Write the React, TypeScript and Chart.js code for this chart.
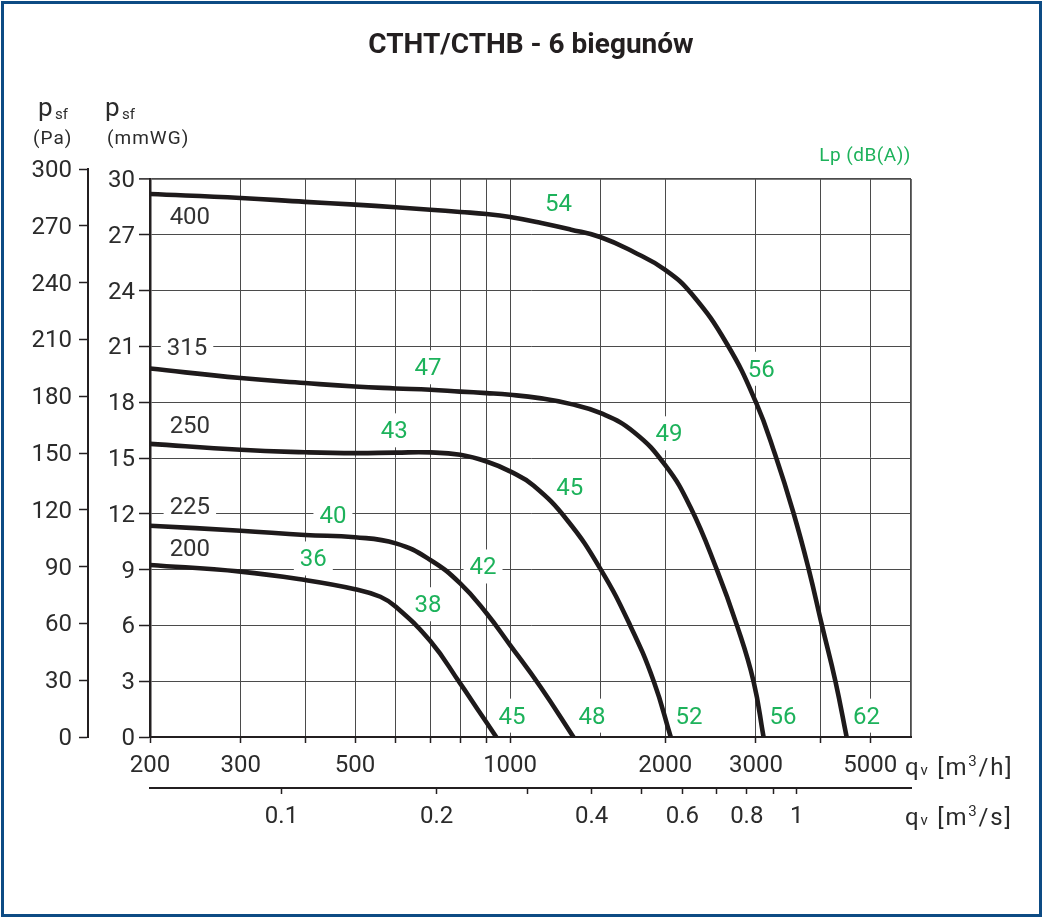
import React, { useEffect, useRef } from 'react';
import { Chart, registerables } from 'chart.js';

Chart.register(...registerables);

// ---------- data (qv in m³/h, psf in mmWG) ----------
const SIZES = ['400', '315', '250', '225', '200'];

const Q_400 = [200, 300, 400, 500, 600, 700, 800, 900, 1000, 1150, 1308, 1500, 1734, 2000, 2250, 2636, 3000, 3270, 3550, 3800, 4030, 4280, 4500];
const P_400 = [29.19, 28.98, 28.77, 28.62, 28.48, 28.35, 28.23, 28.12, 27.96, 27.64, 27.29, 26.87, 26.09, 25.12, 23.83, 21.13, 18.0, 15.17, 12.03, 9.0, 6.0, 3.0, 0];

const Q_315 = [200, 300, 400, 500, 600, 700, 800, 900, 1000, 1140, 1308, 1500, 1738, 2002, 2237, 2519, 2756, 2968, 3104];
const P_315 = [19.81, 19.3, 19.03, 18.84, 18.74, 18.67, 18.57, 18.49, 18.4, 18.22, 17.91, 17.41, 16.4, 14.6, 12.38, 9.0, 6.0, 3.0, 0];

const Q_250 = [200, 300, 400, 500, 600, 700, 800, 900, 1000, 1110, 1290, 1500, 1710, 1900, 2050];
const P_250 = [15.76, 15.44, 15.31, 15.26, 15.29, 15.3, 15.17, 14.81, 14.28, 13.52, 11.67, 9.0, 6.0, 3.0, 0];

const Q_225 = [200, 300, 400, 500, 600, 700, 800, 900, 1000, 1145, 1327];
const P_225 = [11.36, 11.09, 10.86, 10.74, 10.41, 9.52, 8.26, 6.65, 4.94, 2.7, 0];

const Q_200 = [200, 300, 400, 500, 560, 600, 700, 800, 862, 940];
const P_200 = [9.25, 8.89, 8.44, 7.95, 7.54, 7.0, 5.16, 2.88, 1.55, 0];

const CURVE_Q = [Q_400, Q_315, Q_250, Q_225, Q_200];
const CURVE_P = [P_400, P_315, P_250, P_225, P_200];

// size labels (anchor in data units)
const SIZE_LABEL_Q = [239, 236, 239, 239, 239];
const SIZE_LABEL_P = [27.88, 20.85, 16.65, 12.33, 10.08];

// sound pressure labels Lp dB(A)
const LP_TEXT = ['54', '47', '43', '56', '49', '40', '36', '45', '42', '38', '45', '48', '52', '56', '62'];
const LP_Q = [1241, 693, 596, 3072, 2034, 453, 415, 1306, 886, 693, 1008, 1442, 2224, 3387, 4920];
const LP_P = [28.6, 19.77, 16.38, 19.69, 16.22, 11.82, 9.49, 13.31, 9.06, 7.03, 1.04, 1.04, 1.04, 1.04, 1.04];

// axes
const X_TICKS = [200, 300, 400, 500, 600, 700, 800, 900, 1000, 1500, 2000, 3000, 4000, 5000, 6000];
const X_LABELS = [200, 300, 500, 1000, 2000, 3000, 5000];
const X_NO_TICK = [1500, 6000];
const S_TICKS = [0.1, 0.2, 0.3, 0.4, 0.5, 0.6, 0.7, 0.8, 0.9, 1];
const S_LABELS = [0.1, 0.2, 0.4, 0.6, 0.8, 1];
const MM_TICKS = [0, 3, 6, 9, 12, 15, 18, 21, 24, 27, 30];
const PA_TICKS = [0, 30, 60, 90, 120, 150, 180, 210, 240, 270, 300];

// ---------- styles ----------
const FONT = 'Roboto';
const AXIS = '#231f20';
const GRID = '#4b4b4b';
const TICK_TEXT = '#2b2b2b';
const GREEN = '#1db25b';
const CURVE = '#1e1a1b';
const LABEL_DARK = '#333333';

const labelPlugin = {
  id: 'curveLabels',
  afterLayout(chart: any) {
    const s = chart.scales.pa;
    if (!s) return;
    const shift = 10;
    s.top = s.top - shift;
    s._startPixel = s.top;
    s._length = s.bottom - s.top;
  },
  beforeDatasetsDraw(chart: any) {
    const { ctx, scales } = chart;
    const x = scales.x;
    const y = scales.y;
    ctx.save();
    ctx.font = `24px ${FONT}`;
    ctx.textAlign = 'center';
    ctx.textBaseline = 'middle';
    const draw = (text: string, q: number, p: number, color: string) => {
      const px = x.getPixelForValue(q);
      const py = y.getPixelForValue(p);
      const w = ctx.measureText(text).width + 12;
      ctx.fillStyle = '#ffffff';
      ctx.fillRect(px - w / 2, py - 19, w, 34);
      ctx.fillStyle = color;
      ctx.fillText(text, px, py);
    };
    SIZES.forEach((t, i) => draw(t, SIZE_LABEL_Q[i], SIZE_LABEL_P[i], LABEL_DARK));
    LP_TEXT.forEach((t, i) => draw(t, LP_Q[i], LP_P[i], GREEN));
    ctx.restore();
  },
};

const tickFont = { family: FONT, size: 24 };

export default function App() {
  const ref = useRef<HTMLCanvasElement>(null);

  useEffect(() => {
    if (!ref.current) return;
    const chart = new Chart(ref.current, {
      type: 'line',
      data: {
        datasets: SIZES.map((s, k) => ({
          label: s,
          data: CURVE_Q[k].map((q, i) => ({ x: q, y: CURVE_P[k][i] })),
          borderColor: CURVE,
          borderWidth: 4.6,
          pointRadius: 0,
          tension: 0.45,
          borderCapStyle: 'round' as const,
          borderJoinStyle: 'round' as const,
          fill: false,
          xAxisID: 'x',
          yAxisID: 'y',
        })),
      },
      options: {
        responsive: false,
        animation: false,
        devicePixelRatio: window.devicePixelRatio || 1,
        layout: { padding: { left: 20, right: 134, top: 179, bottom: 90 } },
        plugins: { legend: { display: false }, tooltip: { enabled: false }, title: { display: false } },
        scales: {
          x: {
            type: 'logarithmic',
            position: 'bottom',
            min: 200,
            max: 6000,
            weight: 0,
            afterBuildTicks: (s: any) => { s.ticks = X_TICKS.map((v) => ({ value: v })); },
            afterFit: (s: any) => { s.height = 51; },
            ticks: {
              autoSkip: false, maxRotation: 0, minRotation: 0, padding: 9,
              color: TICK_TEXT, font: tickFont,
              callback: (v: any) => (X_LABELS.includes(Number(v)) ? String(v) : ''),
            },
            grid: {
              color: GRID,
              lineWidth: (c: any) => (c.tick && c.tick.value === 6000 ? 1.8 : 1),
              drawTicks: true,
              tickLength: 6,
              tickWidth: 1.5,
              tickColor: (c: any) => (c.tick && X_NO_TICK.includes(c.tick.value) ? 'rgba(0,0,0,0)' : AXIS),
            },
            border: { display: true, color: AXIS, width: 2 },
          },
          xs: {
            axis: 'x',
            type: 'logarithmic',
            position: 'bottom',
            min: 200 / 3600,
            max: 6000 / 3600,
            weight: 1,
            afterBuildTicks: (s: any) => { s.ticks = S_TICKS.map((v) => ({ value: v })); },
            afterFit: (s: any) => { s.height = 42; },
            ticks: {
              autoSkip: false, maxRotation: 0, minRotation: 0, padding: 9,
              color: TICK_TEXT, font: tickFont,
              callback: (v: any) => (S_LABELS.includes(Number(v)) ? String(v) : ''),
            },
            grid: { drawOnChartArea: false, drawTicks: true, tickLength: 6, tickWidth: 1.5, tickColor: AXIS },
            border: { display: true, color: AXIS, width: 2 },
          },
          y: {
            type: 'linear',
            position: 'left',
            min: 0,
            max: 30,
            weight: 0,
            afterBuildTicks: (s: any) => { s.ticks = MM_TICKS.map((v) => ({ value: v })); },
            afterFit: (s: any) => { s.width = 62; },
            ticks: { padding: 4, labelOffset: 2, color: TICK_TEXT, font: tickFont, callback: (v: any) => String(v) },
            grid: {
              color: GRID,
              lineWidth: (c: any) => (c.tick && c.tick.value === 30 ? 1.8 : 1),
              drawTicks: true,
              tickLength: 11,
              tickWidth: 1.5,
              tickColor: AXIS,
            },
            border: { display: true, color: AXIS, width: 2.5 },
          },
          pa: {
            axis: 'y',
            type: 'linear',
            position: 'left',
            min: 0,
            max: 300,
            weight: 1,
            afterBuildTicks: (s: any) => { s.ticks = PA_TICKS.map((v) => ({ value: v })); },
            afterFit: (s: any) => { s.width = 68; },
            ticks: { padding: 7, labelOffset: 2, color: TICK_TEXT, font: tickFont, callback: (v: any) => String(v) },
            grid: { drawOnChartArea: false, drawTicks: true, tickLength: 9, tickWidth: 1.5, tickColor: AXIS },
            border: { display: true, color: AXIS, width: 2 },
          },
        },
      } as any,
      plugins: [labelPlugin],
    });
    return () => chart.destroy();
  }, []);

  const abs = (left: number, baseline: number, size: number, extra: React.CSSProperties = {}): React.CSSProperties => ({
    position: 'absolute',
    left,
    top: baseline - 0.842 * size,
    fontSize: size,
    lineHeight: `${size}px`,
    whiteSpace: 'nowrap',
    color: TICK_TEXT,
    ...extra,
  });

  return (
    <div style={{ position: 'absolute', left: 0, top: 0, width: 1045, height: 920, background: '#fff', fontFamily: FONT, overflow: 'hidden' }}>
      <canvas ref={ref} width={1045} height={920} style={{ position: 'absolute', left: 0, top: 0, width: 1045, height: 920 }} />
      <div style={{ position: 'absolute', left: 1, top: 1, width: 1041, height: 916, border: '3px solid #0d4b84', boxSizing: 'border-box', pointerEvents: 'none' }} />

      <div style={{ ...abs(31, 53.5, 28), width: 1000, textAlign: 'center', fontWeight: 700, color: AXIS }}>CTHT/CTHB - 6 biegunów</div>

      <div style={abs(38, 116, 26)}>p</div>
      <div style={abs(55, 120, 15)}>sf</div>
      <div style={abs(33, 144, 19, { letterSpacing: 1 })}>(Pa)</div>

      <div style={abs(105, 116, 26)}>p</div>
      <div style={abs(122, 120, 15)}>sf</div>
      <div style={abs(107, 144, 19, { letterSpacing: 1 })}>(mmWG)</div>

      <div style={{ ...abs(0, 161, 19), left: undefined, right: 134, color: GREEN, letterSpacing: 0.5 }}>Lp (dB(A))</div>

      <div style={abs(905, 775, 24, { letterSpacing: 1.8 })}>
        q<span style={{ fontSize: 15 }}>v</span> [m<span style={{ fontSize: 15, position: 'relative', top: -9 }}>3</span>/h]
      </div>
      <div style={abs(905, 825, 24, { letterSpacing: 1.8 })}>
        q<span style={{ fontSize: 15 }}>v</span> [m<span style={{ fontSize: 15, position: 'relative', top: -9 }}>3</span>/s]
      </div>
    </div>
  );
}
